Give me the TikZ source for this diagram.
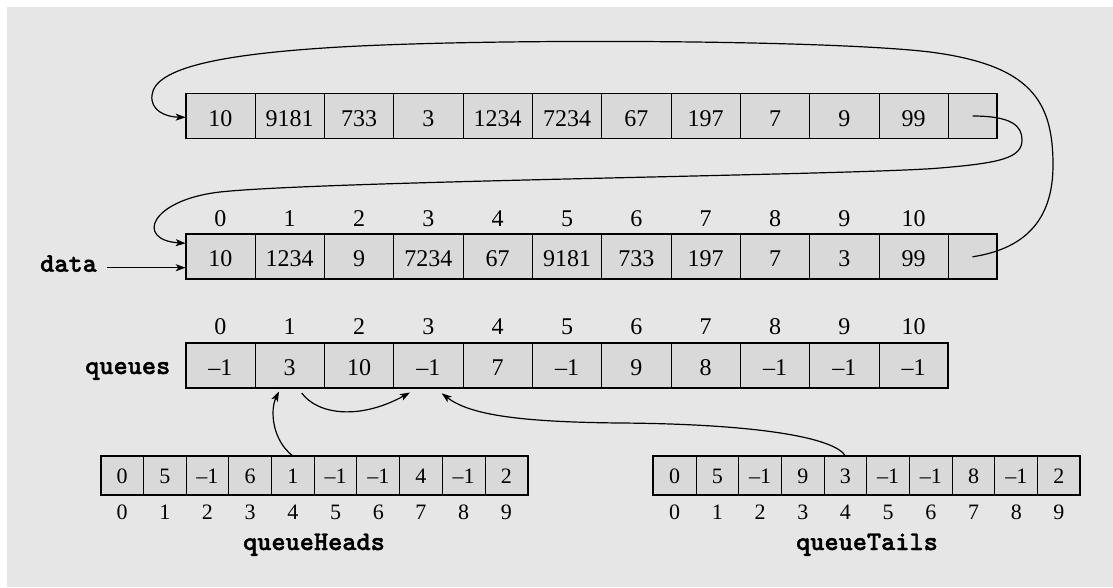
\documentclass[tikz,border=0pt]{standalone}
\usepackage{fontspec}
\setmainfont{Liberation Serif}
\newfontfamily\codefont{lmmonolt10-bold.otf}[FakeBold=1.5]
\usetikzlibrary{arrows.meta}
\definecolor{bggray}{HTML}{E6E6E6}
\definecolor{cellgray}{HTML}{D9D9D9}
\tikzset{
 cell/.style={draw=black, fill=cellgray, line width=1pt, inner sep=0pt, outer sep=0pt, minimum height=45pt, anchor=north west, font=\fontsize{24}{24}\selectfont, text height=20pt, text depth=0pt},
 wide/.style={cell, minimum width=69.33pt},
 narrow/.style={cell, minimum width=48.4pt},
 small/.style={draw=black, fill=cellgray, line width=1pt, inner sep=0pt, outer sep=0pt, minimum width=42.7pt, minimum height=39pt, anchor=north west, font=\fontsize{22}{22}\selectfont, text height=15.5pt, text depth=0pt},
 outline/.style={draw=black, line width=1.8pt},
 idx/.style={anchor=base, inner sep=0pt, font=\fontsize{24}{24}\selectfont},
 sidx/.style={anchor=base, inner sep=0pt, font=\fontsize{22}{22}\selectfont},
 lbl/.style={inner sep=0pt, font=\fontsize{27}{27}\selectfont\codefont},
 link/.style={line width=1.2pt, -{Stealth[length=10pt,width=7pt,inset=2.5pt]}},
}
\begin{document}
\begin{tikzpicture}[x=1pt,y=-1pt]
\useasboundingbox (0,0) rectangle (1113,587);
\fill[white] (0,0) rectangle (1113,587);
\fill[bggray] (7,7) rectangle (1113,587);

% top array
\foreach \v [count=\i from 0] in {10,9181,733,3,1234,7234,67,197,7,9,99}
  \node[wide] (t\i) at ({185.7+69.33*\i},93.5) {\v};
\node[narrow] (t11) at (948.3,93.5) {};
\draw[outline] (t0.north west) rectangle (t11.south east);

% data array
\foreach \v [count=\i from 0] in {10,1234,9,7234,67,9181,733,197,7,3,99}
  \node[wide] (d\i) at ({185.7+69.33*\i},234.3) {\v};
\node[narrow] (d11) at (948.3,234.3) {};
\draw[outline] (d0.north west) rectangle (d11.south east);
\foreach \i in {0,...,10}
  \node[idx] (di\i) at ({185.7+69.33*\i+34.67},226) {\i};

% queues array
\foreach \v [count=\i from 0] in {–1,3,10,–1,7,–1,9,8,–1,–1,–1}
  \node[wide] (q\i) at ({185.7+69.33*\i},342.7) {\v};
\draw[outline] (q0.north west) rectangle (q10.south east);
\foreach \i in {0,...,10}
  \node[idx] (qi\i) at ({185.7+69.33*\i+34.67},334) {\i};

% queueHeads
\foreach \v [count=\i from 0] in {0,5,–1,6,1,–1,–1,4,–1,2}
  \node[small] (h\i) at ({100.7+42.7*\i},456) {\v};
\draw[outline] (h0.north west) rectangle (h9.south east);
\foreach \i in {0,...,9}
  \node[sidx] (hi\i) at ({100.7+42.7*\i+21.35},519.3) {\i};

% queueTails
\foreach \v [count=\i from 0] in {0,5,–1,9,3,–1,–1,8,–1,2}
  \node[small] (tl\i) at ({653.3+42.7*\i},456) {\v};
\draw[outline] (tl0.north west) rectangle (tl9.south east);
\foreach \i in {0,...,9}
  \node[sidx] (tli\i) at ({653.3+42.7*\i+21.35},519.3) {\i};

% labels
\node[lbl, anchor=base west] (datalbl) at (40,271.7) {data};
\node[lbl, anchor=base east] (queueslbl) at (170.5,374) {queues};
\node[lbl, anchor=base] (headslbl) at (314,550) {queueHeads};
\node[lbl, anchor=base] (tailslbl) at (867,550) {queueTails};

% coordinates
\coordinate (dataOut) at (107.3,267.7);
\coordinate (dataIn) at (185.7,267.7);
\coordinate (dIn1) at (185.7,243.3);
\coordinate (tIn) at (185.7,117.3);
\coordinate (qIn1) at (279,391.5);
\coordinate (qOut1) at (301.7,393);
\coordinate (qIn3) at (410,392.5);
\coordinate (qIn3b) at (441.7,393.3);

% connectors
\draw[link] (dataOut) -- (dataIn);
\draw[link] (t11.center) .. controls (1012,116) and (1022,126) .. (1022,140)
  .. controls (1022,158) and (1000,163) .. (940,168)
  .. controls (860,175) and (320,181) .. (220,192)
  .. controls (150,200) and (135,240) .. (dIn1);
\draw[link] (d11.center) .. controls (1030,248) and (1053,215) .. (1053,165)
  .. controls (1053,100) and (1030,65) .. (930,52)
  .. controls (830,40) and (500,38) .. (340,47)
  .. controls (220,54) and (155,68) .. (152,95)
  .. controls (150,110) and (165,117) .. (tIn);
\draw[link] (h4.north) .. controls (272,440) and (270,410) .. (qIn1);
\draw[link] (qOut1) .. controls (318,415) and (360,420) .. (qIn3);
\draw[link] (tl4.north) .. controls (835,438) and (760,424) .. (620,423)
  .. controls (520,422) and (470,415) .. (qIn3b);
\end{tikzpicture}
\end{document}
